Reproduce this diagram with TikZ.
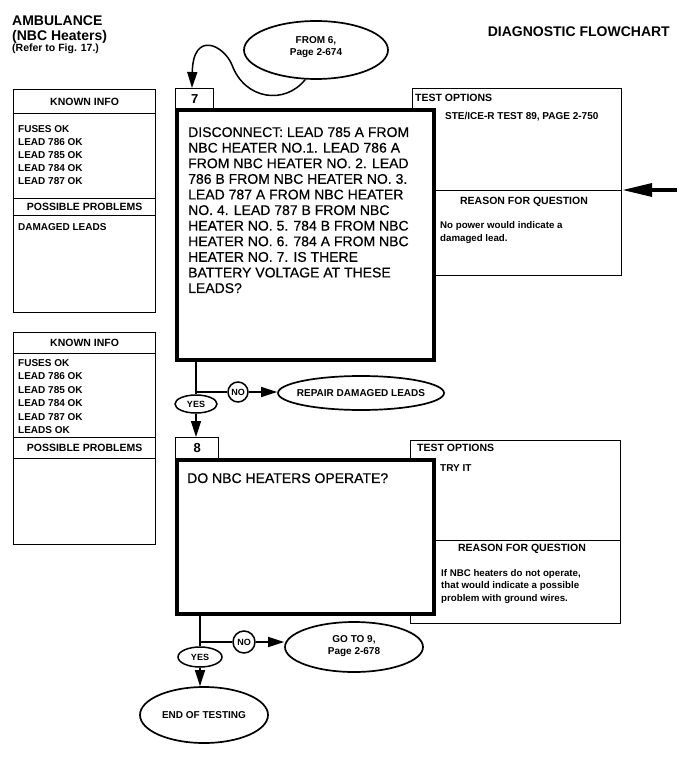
\documentclass[tikz,border=0pt]{standalone}
\usepackage{fontspec}
\setmainfont{Liberation Sans}
\newfontfamily\qfont{Liberation Sans}[FakeBold=0.5]
\usetikzlibrary{shapes.geometric,arrows.meta}
\begin{document}
\begin{tikzpicture}[x=1pt,y=-1pt,
  thinbox/.style={draw,line width=1.2pt,inner sep=0pt,anchor=north west},
  qbox/.style={draw,fill=white,line width=4pt,inner sep=0pt,anchor=north west},
  ellip/.style={draw,ellipse,line width=1.7pt,inner sep=0pt},
  etxt/.style={font=\fontsize{10}{12}\selectfont\bfseries,align=center,inner sep=0pt},
  smtxt/.style={font=\fontsize{10}{13}\selectfont\bfseries,inner sep=0pt},
  lctxt/.style={font=\fontsize{9.7}{13}\selectfont\bfseries,inner sep=0pt,align=left,anchor=north west},
  hdr/.style={font=\fontsize{10.5}{12}\selectfont\bfseries,inner sep=0pt},
  qtxt/.style={font=\qfont\fontsize{14}{15.6}\selectfont,align=left,inner sep=0pt,anchor=north west},
  ttl/.style={font=\fontsize{14}{16}\selectfont\bfseries,inner sep=0pt,anchor=base west},
  numbox/.style={draw,line width=1.4pt,inner sep=0pt,anchor=north west,font=\fontsize{13}{14}\selectfont\bfseries},
  yn/.style={draw,ellipse,line width=1.5pt,inner sep=0pt,font=\fontsize{9}{10}\selectfont\bfseries},
  conn/.style={line width=1.5pt},
  arr/.style={line width=1.5pt,-{Triangle[length=16pt,width=10pt]}},
]
\fill[white] (0,0) rectangle (684,759);
\useasboundingbox (0,0) rectangle (684,759);

% titles
\node[ttl] (t1) at (12,26) {AMBULANCE};
\node[ttl] (t2) at (12,41) {(NBC Heaters)};
\node[ttl,font=\fontsize{10.5}{12}\selectfont\bfseries] (t3) at (12,52) {(Refer to Fig. 17.)};
\node[ttl,anchor=base east] (t4) at (670,37) {DIAGNOSTIC FLOWCHART};

% left panel 1
\node[thinbox,minimum width=142pt,minimum height=24pt] (ki1) at (13,89) {};
\node[hdr] (ki1t) at (ki1.center) {KNOWN INFO};
\node[thinbox,minimum width=142pt,minimum height=85pt] (ki1b) at (13,113) {};
\node[smtxt,anchor=north west,align=left] (ki1x) at (18,125.3) {FUSES OK\\LEAD 786 OK\\LEAD 785 OK\\LEAD 784 OK\\LEAD 787 OK};
\node[thinbox,minimum width=142pt,minimum height=17pt] (pp1) at (13,198) {};
\node[hdr] (pp1t) at (pp1.center) {POSSIBLE PROBLEMS};
\node[thinbox,minimum width=142pt,minimum height=97pt] (pp1b) at (13,215) {};
\node[smtxt,anchor=north west] (pp1x) at (18,223.4) {DAMAGED LEADS};

% left panel 2
\node[thinbox,minimum width=142pt,minimum height=21pt] (ki2) at (13,332) {};
\node[hdr] (ki2t) at (ki2.center) {KNOWN INFO};
\node[thinbox,minimum width=142pt,minimum height=84pt] (ki2b) at (13,353) {};
\node[smtxt,anchor=north west,align=left,font=\fontsize{10}{13.4}\selectfont\bfseries] (ki2x) at (18,359.4) {FUSES OK\\LEAD 786 OK\\LEAD 785 OK\\LEAD 784 OK\\LEAD 787 OK\\LEADS OK};
\node[thinbox,minimum width=142pt,minimum height=21pt] (pp2) at (13,437) {};
\node[hdr] (pp2t) at (pp2.center) {POSSIBLE PROBLEMS};
\node[thinbox,minimum width=142pt,minimum height=86pt] (pp2b) at (13,458) {};

% step 7
\node[thinbox,minimum width=209pt,minimum height=102pt] (to7) at (412,88) {};
\node[thinbox,minimum width=209pt,minimum height=85pt] (rq7) at (412,190) {};
\node[numbox,minimum width=38pt,minimum height=20pt] (l7) at (175,88) {7};
\node[qbox,minimum width=257pt,minimum height=250pt] (q7) at (175,108) {};
\node[qtxt] (q7t) at (188,127) {DISCONNECT: LEAD 785 A FROM\\
NBC HEATER NO.1. LEAD 786 A\\
FROM NBC HEATER NO. 2. LEAD\\
786 B FROM NBC HEATER NO. 3.\\
LEAD 787 A FROM NBC HEATER\\
NO. 4. LEAD 787 B FROM NBC\\
HEATER NO. 5. 784 B FROM NBC\\
HEATER NO. 6. 784 A FROM NBC\\
HEATER NO. 7. IS THERE\\
BATTERY VOLTAGE AT THESE\\
LEADS?};
\node[hdr,anchor=west] (to7h) at (415,98) {TEST OPTIONS};
\node[smtxt,anchor=west] (to7a) at (445,117) {STE/ICE-R TEST 89, PAGE 2-750};
\node[hdr] (rq7h) at (524,202) {REASON FOR QUESTION};
\node[lctxt] (rq7a) at (440,221) {No power would indicate a\\damaged lead.};

% step 8
\node[thinbox,minimum width=210pt,minimum height=100pt] (to8) at (410,440) {};
\node[thinbox,minimum width=210pt,minimum height=83pt] (rq8) at (410,540) {};
\node[numbox,minimum width=43pt,minimum height=21pt] (l8) at (175,437) {8};
\node[qbox,minimum width=257pt,minimum height=154pt] (q8) at (175,458) {};
\node[qtxt] (q8t) at (187,473) {DO NBC HEATERS OPERATE?};
\node[hdr,anchor=west] (to8h) at (417,448) {TEST OPTIONS};
\node[smtxt,anchor=west] (to8a) at (440,468) {TRY IT};
\node[hdr] (rq8h) at (522,549) {REASON FOR QUESTION};
\node[lctxt,font=\fontsize{9.7}{12.5}\selectfont\bfseries] (rq8a) at (441,569) {If NBC heaters do not operate,\\that would indicate a possible\\problem with ground wires.};

% ellipses
\node[ellip,minimum width=144pt,minimum height=58pt] (from6) at (316,50) {};
\node[etxt] (from6t) at (316,47) {FROM 6,\\Page 2-674};
\node[ellip,minimum width=166pt,minimum height=34pt] (repair) at (361,393) {};
\node[etxt] (repairt) at (repair.center) {REPAIR DAMAGED LEADS};
\node[ellip,minimum width=138pt,minimum height=50pt] (goto) at (354,647) {};
\node[etxt] (gotot) at (354,646) {GO TO 9,\\Page 2-678};
\node[ellip,minimum width=128pt,minimum height=56pt] (fin) at (204,715) {};
\node[etxt] (fint) at (fin.center) {END OF TESTING};

\node[yn,minimum width=42pt,minimum height=18pt] (yes1) at (196,404) {YES};
\node[yn,circle,minimum size=20pt] (no1) at (238,392) {NO};
\node[yn,minimum width=44pt,minimum height=20pt] (yes2) at (200,657) {YES};
\node[yn,circle,minimum size=22pt] (no2) at (244,642) {NO};

% connectors
\draw[arr] (from6.250) .. controls (285,105) and (245,100) .. (232,65)
  .. controls (224,45) and (193,30) .. (l7.north -| 192,0);
\coordinate (rin) at (677,190);
\draw[line width=3.5pt,-{Triangle[length=30pt,width=13pt]}] (rin) -- (rq7.north east);

\coordinate (b7) at (196,392);
\draw[conn] (q7.south -| b7) -- (yes1.north);
\draw[conn] (b7) -- (no1.west);
\draw[arr] (no1.east) -- (no1.east -| repair.west);
\draw[arr] (yes1.south) -- (yes1.south |- l8.north);

\coordinate (b8) at (200,642);
\draw[conn] (q8.south -| b8) -- (yes2.north);
\draw[conn] (b8) -- (no2.west);
\draw[arr] (no2.east) -- (no2.east -| goto.west);
\draw[arr] (yes2.south) -- (yes2.south |- fin.north);
\end{tikzpicture}
\end{document}
